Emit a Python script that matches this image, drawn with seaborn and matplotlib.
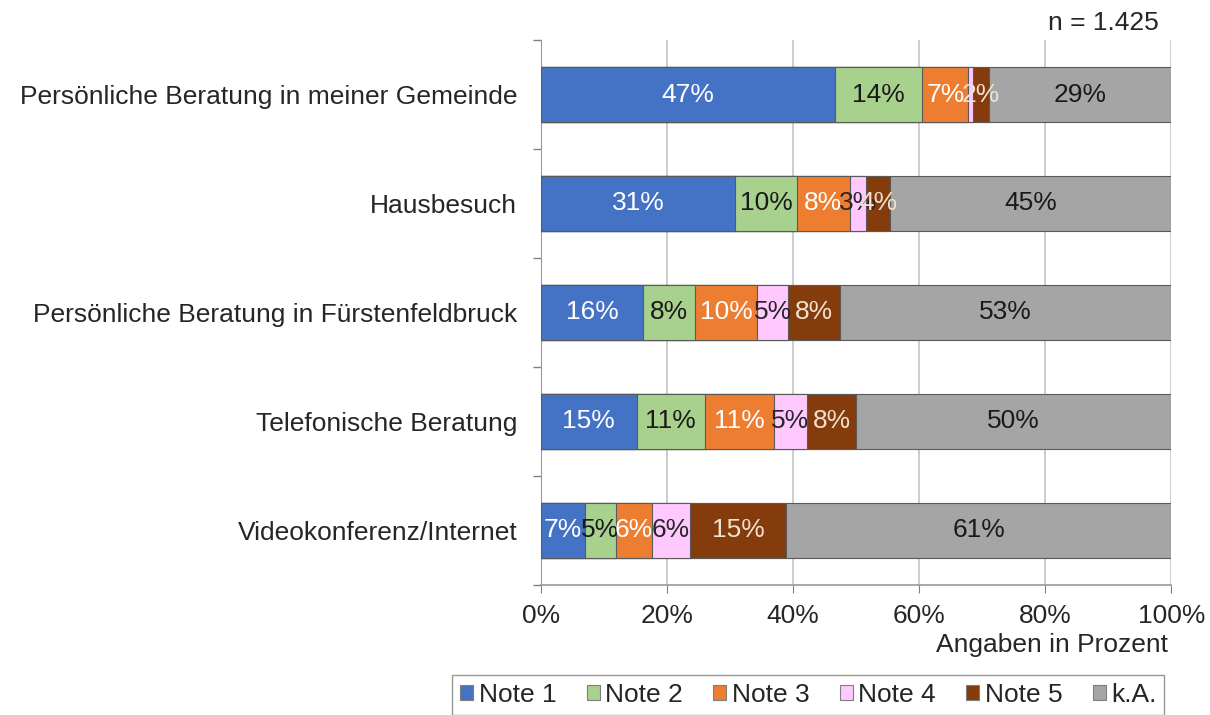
import numpy as np
import pandas as pd
import matplotlib
matplotlib.use("Agg")
import matplotlib.pyplot as plt
import seaborn as sns
from matplotlib.patches import Patch

# data (in percent)
categories = [
    "Persönliche Beratung in meiner Gemeinde",
    "Hausbesuch",
    "Persönliche Beratung in Fürstenfeldbruck",
    "Telefonische Beratung",
    "Videokonferenz/Internet",
]
series = ["Note 1", "Note 2", "Note 3", "Note 4", "Note 5", "k.A."]
note1 = [46.7, 30.8, 16.2, 15.2, 7.0]
note2 = [13.8, 9.8, 8.2, 10.8, 4.9]
note3 = [7.3, 8.4, 9.9, 11.0, 5.7]
note4 = [0.8, 2.6, 4.9, 5.2, 6.1]
note5 = [2.5, 3.8, 8.3, 7.8, 15.2]
ka = [28.9, 44.6, 52.5, 50.0, 61.1]
labels = [
    ["47%", "31%", "16%", "15%", "7%"],
    ["14%", "10%", "8%", "11%", "5%"],
    ["7%", "8%", "10%", "11%", "6%"],
    ["", "3%", "5%", "5%", "6%"],
    ["2%", "4%", "8%", "8%", "15%"],
    ["29%", "45%", "53%", "50%", "61%"],
]

colors = ["#4472C4", "#A9D18E", "#ED7D31", "#FFC9FF", "#843C0C", "#A5A5A5"]
text_colors = ["white", "#1a1a1a", "white", "#262626", "#f2e0d0", "#1a1a1a"]

values = np.array([note1, note2, note3, note4, note5, ka])
cum = values.cumsum(axis=0)

sns.set_style("white")
plt.rcParams["font.family"] = ["Liberation Sans", "DejaVu Sans"]
FS = 19

fig = plt.figure(figsize=(12.1, 7.15), dpi=100)
ax = fig.add_axes([0.447, 0.182, 0.521, 0.762])

# stacked bars: draw cumulative layers from the back to the front
for i in range(len(series) - 1, -1, -1):
    df = pd.DataFrame({"cat": categories, "val": cum[i]})
    sns.barplot(data=df, x="val", y="cat", orient="h", color=colors[i],
                saturation=1, width=0.5, edgecolor="#5a5a5a", linewidth=0.8,
                ax=ax, zorder=3)

for i in range(len(series)):
    for j in range(len(categories)):
        if labels[i][j]:
            ax.text(cum[i][j] - values[i][j] / 2, j, labels[i][j],
                    ha="center", va="center", fontsize=FS,
                    color=text_colors[i], zorder=5)

ax.set_xlim(0, 100)
ax.set_ylim(4.5, -0.5)
ax.set_xticks(np.arange(0, 101, 20))
ax.set_xticklabels([f"{t}%" for t in range(0, 101, 20)], fontsize=FS)
ax.set_yticks(range(len(categories)))
ax.set_yticklabels(categories, fontsize=FS)
ax.tick_params(axis="y", which="major", length=0, pad=17)
ax.tick_params(axis="x", length=6, color="#808080", pad=8, direction="out",
               bottom=True)
ax.set_xlabel("")
ax.set_ylabel("")

ax.xaxis.grid(True, color="#c4c4c4", linewidth=1.2, zorder=0)
ax.set_axisbelow(True)
for s in ["top", "right"]:
    ax.spines[s].set_visible(False)
ax.spines["left"].set_color("#9a9a9a")
ax.spines["bottom"].set_color("#9a9a9a")
ax.spines["bottom"].set_linewidth(1.2)

# minor ticks between categories on the left axis
ax.set_yticks(np.arange(-0.5, 5.0, 1.0), minor=True)
ax.tick_params(axis="y", which="minor", left=True, length=6, width=1,
               color="#808080", direction="out")

fig.text(0.965, 0.098, "Angaben in Prozent", ha="right", va="center", fontsize=FS)
fig.text(0.958, 0.968, "n = 1.425", ha="right", va="center", fontsize=FS)

handles = [Patch(facecolor=c, edgecolor="#7f7f7f", linewidth=0.8) for c in colors]
leg = fig.legend(handles, series, loc="upper center", bbox_to_anchor=(0.668, 0.056),
                 ncol=6, fontsize=FS, frameon=True, fancybox=False,
                 borderaxespad=0, handlelength=0.5, handleheight=0.5,
                 handletextpad=0.2, columnspacing=1.15, borderpad=0.3,
                 edgecolor="#7f7f7f")
leg.get_frame().set_linewidth(1.0)

fig.savefig("out.png", dpi=100)
